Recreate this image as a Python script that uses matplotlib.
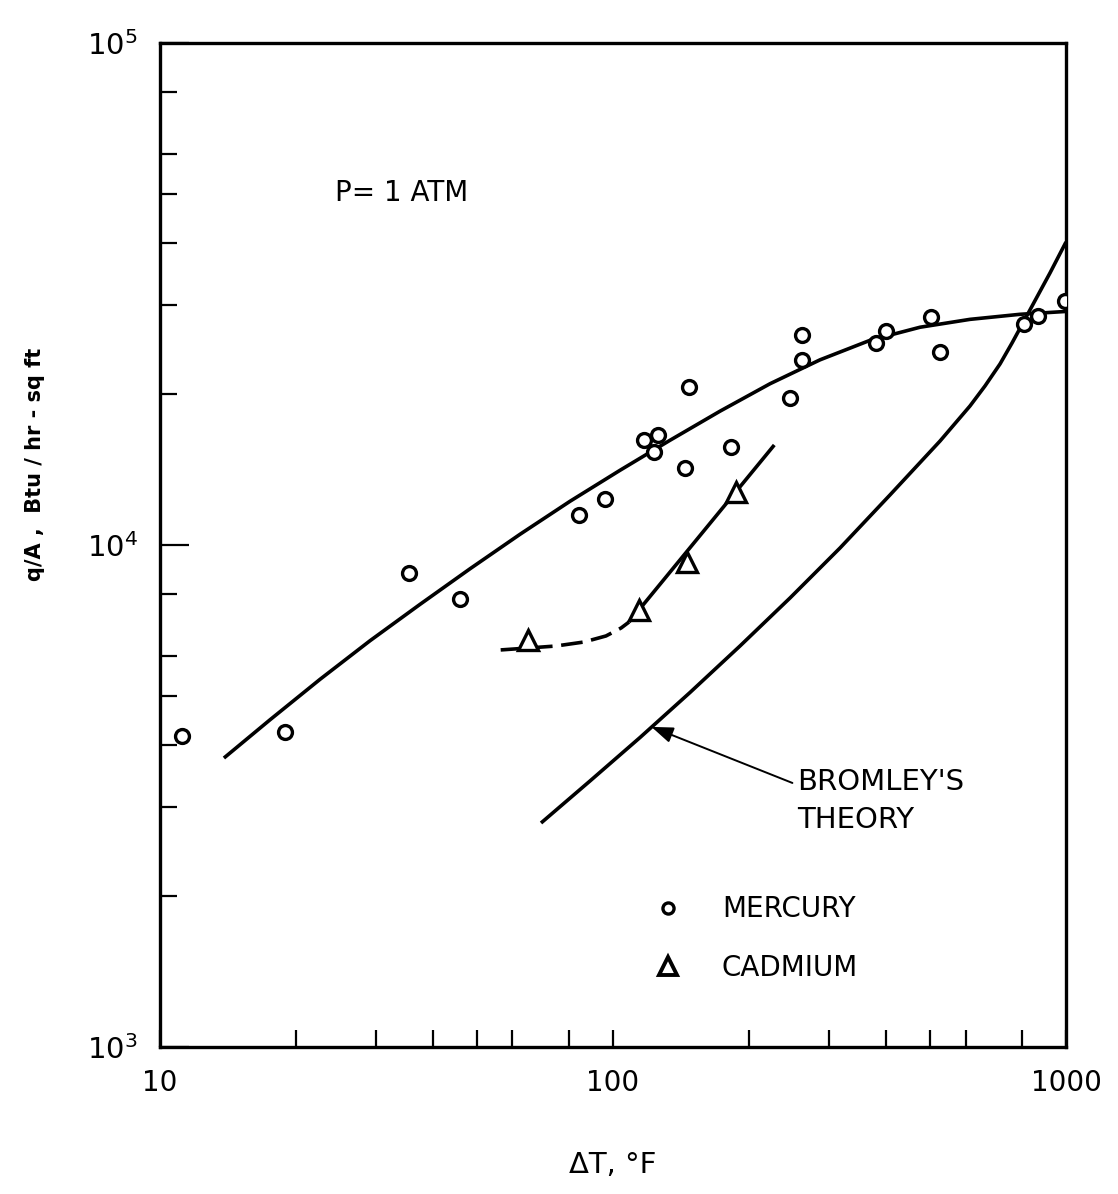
import matplotlib
matplotlib.use("Agg")
import matplotlib.pyplot as plt
from matplotlib.lines import Line2D
from matplotlib.ticker import FixedLocator, NullFormatter

# Film boiling of liquid metals, P = 1 atm
mercury_dt = [11.2, 18.9, 35.4, 45.9, 84.1, 96.0, 117, 126, 123, 144, 147,
              182, 246, 262, 262, 380, 400, 503, 526, 807, 867, 995]
mercury_q = [4160, 4240, 8790, 7800, 11480, 12350, 16190, 16560, 15320, 14240,
             20640, 15680, 19620, 26200, 23360, 25260, 26690, 28460, 24240,
             27560, 28590, 30620]

cadmium_dt = [64.9, 114.2, 145.8, 187.1]
cadmium_q = [6480, 7420, 9250, 12750]

# Faired curve through the mercury data
mercury_fit_dt = [13.84, 17.49, 22.56, 29.08, 37.50, 48.34, 62.33, 80.36,
                  103.6, 133.6, 172.2, 222.1, 286.4, 369.3, 476.1, 613.8,
                  791.3, 1000]
mercury_fit_q = [3764, 4485, 5401, 6446, 7617, 8966, 10503, 12219, 14085,
                 16166, 18470, 20950, 23380, 25570, 27150, 28150, 28810, 29190]

# Cadmium: extrapolated (dashed) and faired (solid) portions
cadmium_ext_dt = [56.5, 64.9, 74.8, 86.3, 96.5, 104.2, 108.5]
cadmium_ext_q = [6180, 6234, 6292, 6409, 6589, 6834, 7024]
cadmium_fit_dt = [108.5, 227]
cadmium_fit_q = [7024, 15820]

# Bromley's film-boiling theory
bromley_dt = [69.36, 88.97, 114.7, 147.9, 190.7, 245.9, 317.0, 408.7, 527.1,
              613.8, 662.5, 715.0, 760.1, 812.0, 921.9, 1000]
bromley_q = [2794, 3388, 4135, 5084, 6293, 7843, 9863, 12580, 16110, 18920,
             20740, 22940, 25260, 28190, 34830, 40140]

x_major = [10, 100, 1000]
x_major_labels = ["10", "100", "1000"]
x_minor = [20, 30, 40, 50, 60, 80, 200, 300, 400, 500, 600, 800]
y_major = [1e3, 1e4, 1e5]
y_major_labels = [r"$10^3$", r"$10^4$", r"$10^5$"]
y_minor = [2e3, 3e3, 4e3, 5e3, 6e3, 8e3, 2e4, 3e4, 4e4, 5e4, 6e4, 8e4]

plt.rcParams["font.family"] = ["DejaVu Sans"]
plt.rcParams["mathtext.fontset"] = "dejavusans"

fig = plt.figure(figsize=(11.18, 11.94), dpi=100)
ax = fig.add_axes([0.1431, 0.1231, 0.8104, 0.8409])
ax.set_xscale("log")
ax.set_yscale("log")
ax.set_xlim(10, 1000)
ax.set_ylim(1e3, 1e5)

lw = 2.6
line_kw = dict(color="black", lw=lw, solid_capstyle="butt", solid_joinstyle="round")
ax.plot(mercury_fit_dt, mercury_fit_q, **line_kw)
ax.plot(bromley_dt, bromley_q, **line_kw)
ax.plot(cadmium_ext_dt, cadmium_ext_q, color="black", lw=lw, dashes=(6, 2.4))
ax.plot(cadmium_fit_dt, cadmium_fit_q, **line_kw)

ax.plot(mercury_dt, mercury_q, ls="none", marker="o", ms=10, mfc="white",
        mec="black", mew=2.4, zorder=5)
ax.plot(cadmium_dt, cadmium_q, ls="none", marker="^", ms=15, mfc="white",
        mec="black", mew=2.4, zorder=5)

# Axis frame and ticks
for s in ax.spines.values():
    s.set_linewidth(2.4)
ax.xaxis.set_major_locator(FixedLocator(x_major))
ax.xaxis.set_minor_locator(FixedLocator(x_minor))
ax.set_xticklabels(x_major_labels)
ax.xaxis.set_minor_formatter(NullFormatter())
ax.yaxis.set_major_locator(FixedLocator(y_major))
ax.yaxis.set_minor_locator(FixedLocator(y_minor))
ax.set_yticklabels(y_major_labels)
ax.yaxis.set_minor_formatter(NullFormatter())
ax.tick_params(axis="both", which="both", direction="in", width=1.6,
               top=False, right=False, labelsize=20)
ax.tick_params(axis="x", which="both", length=12, pad=16)
ax.tick_params(axis="y", which="minor", length=12)
ax.tick_params(axis="y", which="major", length=21, pad=16, labelsize=21)

ax.set_xlabel("ΔT, °F", fontsize=21)
ax.xaxis.set_label_coords(0.5, -0.104)
ax.set_ylabel("q/A ,  Btu / hr - sq ft", fontsize=15, fontweight="bold",
              ha="center", va="center")
ax.yaxis.set_label_coords(-0.138, 0.58)

ax.text(0.193, 0.851, "P= 1 ATM", transform=ax.transAxes, fontsize=20,
        ha="left", va="center")

ax.text(0.703, 0.278, "BROMLEY'S\nTHEORY", transform=ax.transAxes,
        fontsize=21, ha="left", va="top", linespacing=1.45)
ax.annotate("", xy=(bromley_dt[2] * 1.06, bromley_q[2] * 1.05), xycoords="data",
            xytext=(0.698, 0.263), textcoords="axes fraction",
            arrowprops=dict(arrowstyle="-|>,head_length=0.6,head_width=0.22",
                            color="black", lw=1.4, mutation_scale=22,
                            shrinkA=0, shrinkB=0))

handles = [
    Line2D([], [], ls="none", marker="o", ms=8, mfc="white", mec="black", mew=2.4),
    Line2D([], [], ls="none", marker="^", ms=13, mfc="white", mec="black", mew=2.8),
]
ax.legend(handles, ["MERCURY", "CADMIUM"], loc="upper left",
          bbox_to_anchor=(0.545, 0.151), frameon=False, fontsize=20,
          handlelength=1.0, handletextpad=1.45, labelspacing=1.1,
          borderpad=0, borderaxespad=0)

fig.savefig("out.png", dpi=100, facecolor="white")
